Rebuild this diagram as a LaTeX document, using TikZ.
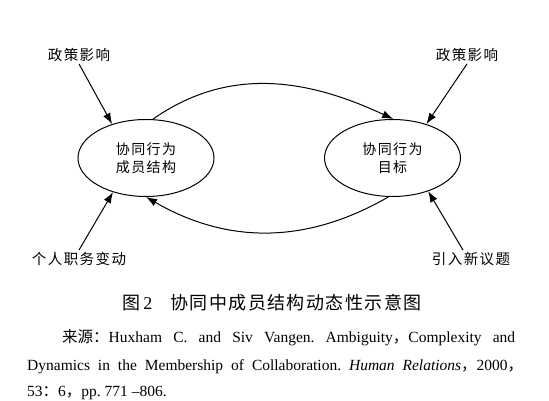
\documentclass[tikz,border=0pt]{standalone}
\usepackage{fontspec}
\setmainfont{Liberation Serif}
\newfontfamily\cjk[LetterSpace=10]{Noto Sans CJK SC}
\newfontfamily\cjkcap[LetterSpace=8]{Noto Sans CJK SC}
\newfontfamily\cjksrc{Noto Sans CJK SC}
\usetikzlibrary{arrows.meta,shapes.geometric}
\frenchspacing

\begin{document}
\begin{tikzpicture}[x=1pt,y=1pt,
    role/.style={draw, ellipse, line width=1pt, minimum width=136pt, minimum height=77pt,
      align=center, font=\cjk\fontsize{14}{18.5}\selectfont},
    cause/.style={font=\cjk\fontsize{14.5}{18}\selectfont, inner sep=2pt},
    push/.style={-{Latex[length=11pt,width=8pt]}, line width=1pt},
    srcline/.style={anchor=west, inner sep=0pt, font=\fontsize{15.5}{18}\selectfont}]
    \useasboundingbox (0,0) rectangle (549,401);

    % the two ellipses
    \node[role] (members) at (146,243) {协同行为\\成员结构};
    \node[role] (goals) at (392.5,243) {协同行为\\目标};

    % outside influences
    \node[cause] (policyL) at (79,346) {政策影响};
    \node[cause] (policyR) at (467,346) {政策影响};
    \node[cause] (staff) at (79,142) {个人职务变动};
    \node[cause] (issues) at (471,142) {引入新议题};

    \draw[push] (policyL.south) -- (members.135);
    \draw[push] (staff.north) -- (members.226);
    \draw[push] (policyR.south) -- (goals.45);
    \draw[push] ([xshift=-8pt]issues.north) -- (goals.317);

    % feedback between the two
    \draw[push] (members.80) to[out=35, in=155] (goals.89);
    \draw[push] (goals.264) to[out=210, in=-30] (members.270);

    % caption and source
    \node[font=\cjkcap\fontsize{18}{20}\selectfont] (caption) at (272,98) {图\,{\rmfamily 2}\quad 协同中成员结构动态性示意图};
    \node[srcline] (src1) at (62,63) {\makebox[453pt][s]{{\cjksrc 来源：}Huxham C. and Siv Vangen. Ambiguity{\cjksrc ，}Complexity and}};
    \node[srcline] (src2) at (27,34) {\makebox[496pt][s]{Dynamics in the Membership of Collaboration. \textit{Human Relations}{\cjksrc ，}2000{\cjksrc ，}}};
    \node[srcline] (src3) at (27,8) {53{\cjksrc ：}6{\cjksrc ，}pp. 771 –806.};
\end{tikzpicture}
\end{document}
